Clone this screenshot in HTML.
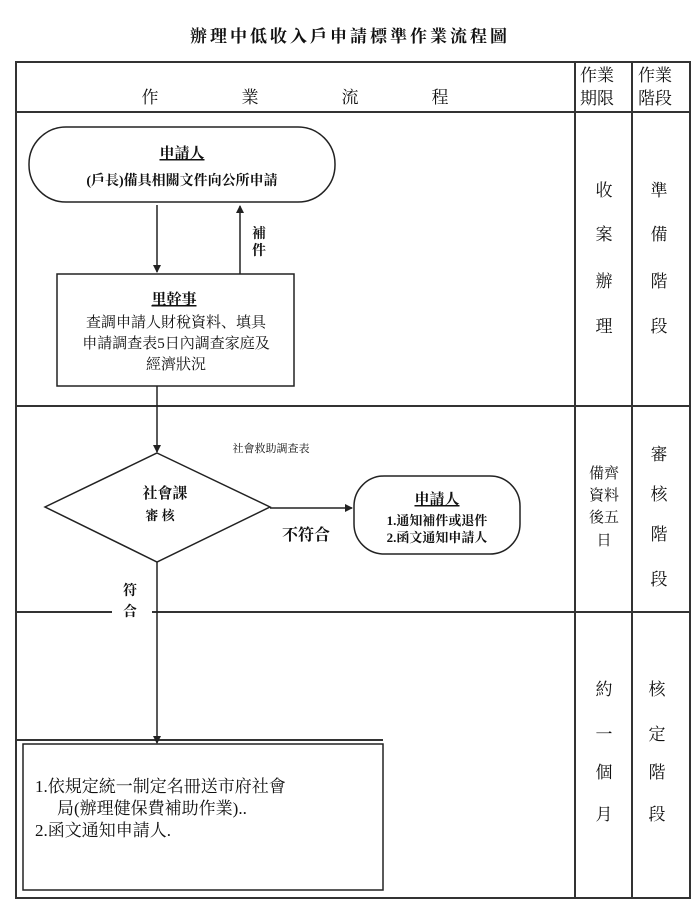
<!DOCTYPE html>
<html><head><meta charset="utf-8"><style>
body{margin:0;background:#fff;width:700px;height:912px;overflow:hidden}
svg text{font-family:"Liberation Serif","Noto Serif CJK SC","Noto Sans CJK TC",serif;fill:#111}
</style></head><body>
<svg width="700" height="912" viewBox="0 0 700 912" xmlns="http://www.w3.org/2000/svg">
<defs><marker id="a" markerWidth="8" markerHeight="8" refX="7" refY="4" orient="auto" markerUnits="userSpaceOnUse"><path d="M0,0 L8,4 L0,8z" fill="#222"/></marker></defs>
<text x="350" y="42" font-size="17" text-anchor="middle" font-weight="bold" letter-spacing="3">辦理中低收入戶申請標準作業流程圖</text>
<g stroke="#333" stroke-width="2" fill="none">
<rect x="16" y="62" width="674" height="836"/>
<line x1="575" y1="62" x2="575" y2="898"/>
<line x1="632" y1="62" x2="632" y2="898"/>
<line x1="16" y1="112" x2="690" y2="112"/>
<line x1="16" y1="406" x2="690" y2="406"/>
<line x1="16" y1="612" x2="112" y2="612"/>
<line x1="152" y1="612" x2="690" y2="612"/>
<line x1="16" y1="740" x2="383" y2="740"/>
</g>
<g font-size="17" text-anchor="middle">
<text x="150" y="103">作</text><text x="250" y="103">業</text><text x="350" y="103">流</text><text x="440" y="103">程</text>
<text x="597" y="81">作業</text><text x="597" y="104">期限</text>
<text x="655" y="81">作業</text><text x="655" y="104">階段</text>
</g>
<g font-size="17" text-anchor="middle">
<text x="604" y="196">收</text><text x="604" y="240">案</text><text x="604" y="287">辦</text><text x="604" y="332">理</text>
<text x="659" y="196">準</text><text x="659" y="240">備</text><text x="659" y="287">階</text><text x="659" y="332">段</text>
<text x="659" y="460">審</text><text x="659" y="500">核</text><text x="659" y="540">階</text><text x="659" y="585">段</text>
<text x="604" y="695">約</text><text x="604" y="740">一</text><text x="604" y="778">個</text><text x="604" y="820">月</text>
<text x="657" y="695">核</text><text x="657" y="740">定</text><text x="657" y="778">階</text><text x="657" y="820">段</text>
</g>
<g font-size="15" text-anchor="middle">
<text x="604" y="478">備齊</text><text x="604" y="500">資料</text><text x="604" y="522">後五</text><text x="604" y="545">日</text>
</g>
<g stroke="#222" stroke-width="1.5" fill="none">
<rect x="29" y="127" width="306" height="75" rx="37"/>
<rect x="57" y="274" width="237" height="112"/>
<rect x="354" y="476" width="166" height="78" rx="30"/>
<polygon points="157,453 270,507 157,562 45,507"/>
<rect x="23" y="744" width="360" height="146"/>
<line x1="157" y1="205" x2="157" y2="272" marker-end="url(#a)"/>
<line x1="240" y1="274" x2="240" y2="206" marker-end="url(#a)"/>
<line x1="157" y1="386" x2="157" y2="452" marker-end="url(#a)"/>
<line x1="270" y1="508" x2="352" y2="508" marker-end="url(#a)"/>
<line x1="157" y1="562" x2="157" y2="743" marker-end="url(#a)"/>
</g>
<g text-anchor="middle" font-weight="bold">
<text x="182" y="158" font-size="15" text-decoration="underline">申請人</text>
<text x="182" y="185" font-size="14">(戶長)備具相關文件向公所申請</text>
<text x="259" y="238" font-size="14">補</text><text x="259" y="255" font-size="14">件</text>
<text x="174" y="304" font-size="15" text-decoration="underline">里幹事</text>
<text x="165" y="498" font-size="15">社會課</text>
<text x="160" y="520" font-size="13">審 核</text>
<text x="306" y="540" font-size="16">不符合</text>
<text x="130" y="595" font-size="14">符</text><text x="130" y="616" font-size="14">合</text>
<text x="437" y="504" font-size="15" text-decoration="underline">申請人</text>
<text x="437" y="525" font-size="13">1.通知補件或退件</text>
<text x="437" y="542" font-size="13">2.函文通知申請人</text>
</g>
<g text-anchor="middle" font-size="15">
<text x="176" y="327">查調申請人財稅資料、填具</text>
<text x="176" y="348">申請調查表5日內調查家庭及</text>
<text x="176" y="369">經濟狀況</text>
</g>
<text x="271" y="452" font-size="11" text-anchor="middle">社會救助調查表</text>
<g font-size="17">
<text x="35" y="792">1.依規定統一制定名冊送市府社會</text>
<text x="57" y="814">局(辦理健保費補助作業)..</text>
<text x="35" y="836">2.函文通知申請人.</text>
</g>
</svg>
</body></html>
